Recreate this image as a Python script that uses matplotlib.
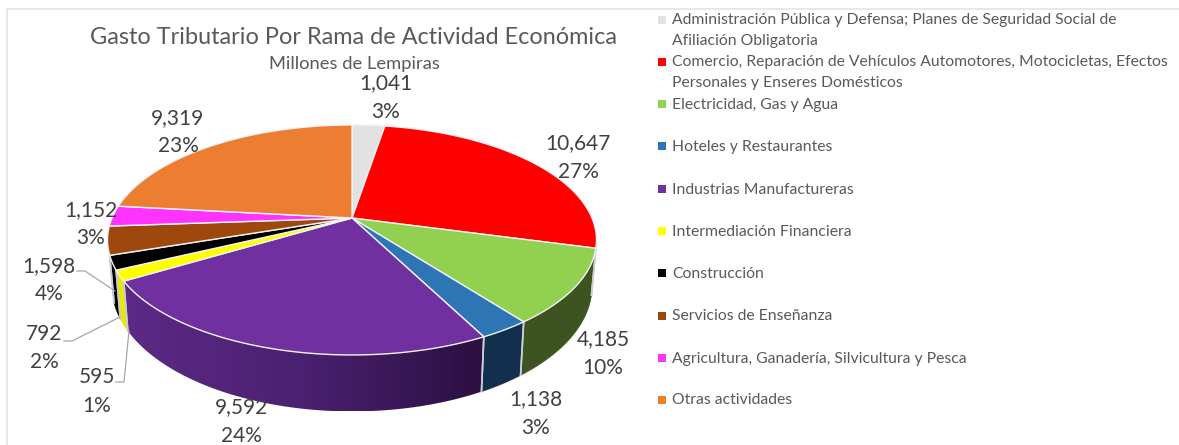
import numpy as np
import matplotlib
matplotlib.use("Agg")
import matplotlib.pyplot as plt
from matplotlib.colors import LinearSegmentedColormap
from matplotlib.patches import Polygon

plt.rcParams['font.family'] = ['Lato', 'DejaVu Sans']

categories = [
    "Administración Pública y Defensa; Planes de Seguridad Social de\nAfiliación Obligatoria",
    "Comercio, Reparación de Vehículos Automotores, Motocicletas, Efectos\nPersonales y Enseres Domésticos",
    "Electricidad, Gas y Agua",
    "Hoteles y Restaurantes",
    "Industrias Manufactureras",
    "Intermediación Financiera",
    "Construcción",
    "Servicios de Enseñanza",
    "Agricultura, Ganadería, Silvicultura y Pesca",
    "Otras actividades",
]
values = [1041, 10647, 4185, 1138, 9592, 595, 792, 1598, 1152, 9319]
title = "Gasto Tributario Por Rama de Actividad Económica"
subtitle = "Millones de Lempiras"

top_colors = ["#e2e2e2", "#ff0000", "#92d050", "#2e75b6", "#7030a0",
              "#ffff00", "#000000", "#9e480e", "#ff33ff", "#ed7d31"]
side_colors = ["#8a8a8a", "#a00000", "#3d5320", "#12304d", "#4a2070",
               "#e8e800", "#000000", "#5e2b08", "#a020a0", "#8e4b1d"]

# label centres and legend rows, in picture pixels
label_xy = [(386, 83), (578, 143), (603, 339), (536, 399), (241, 407),
            (97, 377), (44, 334), (49, 266), (91, 210), (178, 118)]
legend_y = [29, 71, 103, 145, 188, 230, 272, 315, 357, 399]
leaders = [([77, 85, 115], [271, 271, 291]),
           ([64, 72, 120], [341, 341, 317]),
           ([116, 124, 129], [382, 382, 331])]

# perspective of the pie disc
CX, CY = 352, 218
A, B, K = 240, 110.8, 0.191
WALL_FROM, WALL_TO = 101, 252


def top_point(phi):
    u, v = np.sin(phi), np.cos(phi)
    w = 1 + K * v
    return CX + A * u / w, CY - B * v / w


def bottom_point(phi):
    x, y = top_point(phi)
    return CX + (x - CX) * 0.982, y + 50 + (y - 283) * 0.09


fig = plt.figure(figsize=(11.79, 4.45), dpi=100)
ax = fig.add_axes([0, 0, 1, 1])
ax.set_xlim(0, 1179)
ax.set_ylim(445, 0)
ax.axis("off")

# chart frame
ax.plot([1179, 6.5, 6.5], [8.5, 8.5, 445], color="#e4e4e4", lw=1.2)

total = sum(values)
edges = np.radians(np.cumsum([0] + values) / total * 360)

# outer wall, only the part that faces the viewer
lo, hi = np.radians(WALL_FROM), np.radians(WALL_TO)
purple_cmap = LinearSegmentedColormap.from_list("wall", ["#5c2a86", "#4a2070", "#2c0f40"])
for i in range(len(values)):
    a0, a1 = max(edges[i], lo), min(edges[i + 1], hi)
    if a1 <= a0:
        continue
    steps = np.linspace(a0, a1, 60)
    xt, yt = top_point(steps)
    xb, yb = bottom_point(steps)
    px = np.r_[xt, xb[::-1]]
    py = np.r_[yt, yb[::-1]]
    if i == 4:
        # purple wall gets darker towards the right
        img = ax.imshow(np.linspace(0, 1, 256)[None, :], cmap=purple_cmap, aspect="auto",
                        extent=(px.min(), px.max(), py.max(), py.min()), zorder=2)
        img.set_clip_path(Polygon(np.c_[px, py], transform=ax.transData))
    else:
        ax.fill(px, py, color=side_colors[i], lw=0.4, zorder=2)
    for a in (a0, a1):
        if a in (edges[i], edges[i + 1]) and lo < a < hi:
            x0, y0 = top_point(a)
            x1, y1 = bottom_point(a)
            ax.plot([x0, x1], [y0, y1], color="#c9ced6", lw=1.2, zorder=3)
ax.set_xlim(0, 1179)
ax.set_ylim(445, 0)

# top face
for i in range(len(values)):
    phis = np.linspace(edges[i], edges[i + 1], 80)
    xs, ys = top_point(phis)
    ax.fill(np.r_[CX, xs], np.r_[CY, ys], facecolor=top_colors[i],
            edgecolor="#f2f3f5", lw=1.0, zorder=4)

# data labels
for (x, y), v in zip(label_xy, values):
    ax.text(x, y, f"{v:,}", ha="center", va="center", fontsize=15, color="#404040", zorder=6)
    ax.text(x, y + 28.5, f"{v / total:.0%}", ha="center", va="center", fontsize=15, color="#404040", zorder=6)

for lx, ly in leaders:
    ax.plot(lx, ly, color="#a6a6a6", lw=0.9, zorder=5)

ax.text(354, 37.5, title, ha="center", va="center", fontsize=16.9, color="#595959")
ax.text(354, 64.5, subtitle, ha="center", va="center", fontsize=13.2, color="#595959")

# legend
for name, col, y in zip(categories, top_colors, legend_y):
    lines = name.split("\n")
    first = y - 10.5 if len(lines) == 2 else y
    ax.scatter([662], [first + 1], marker="s", s=26, color=col, linewidths=0, zorder=5)
    for k, line in enumerate(lines):
        ax.text(672, first + 1.5 + k * 21, line, ha="left", va="center", fontsize=11.3, color="#595959")

plt.savefig("out.png", dpi=100)
